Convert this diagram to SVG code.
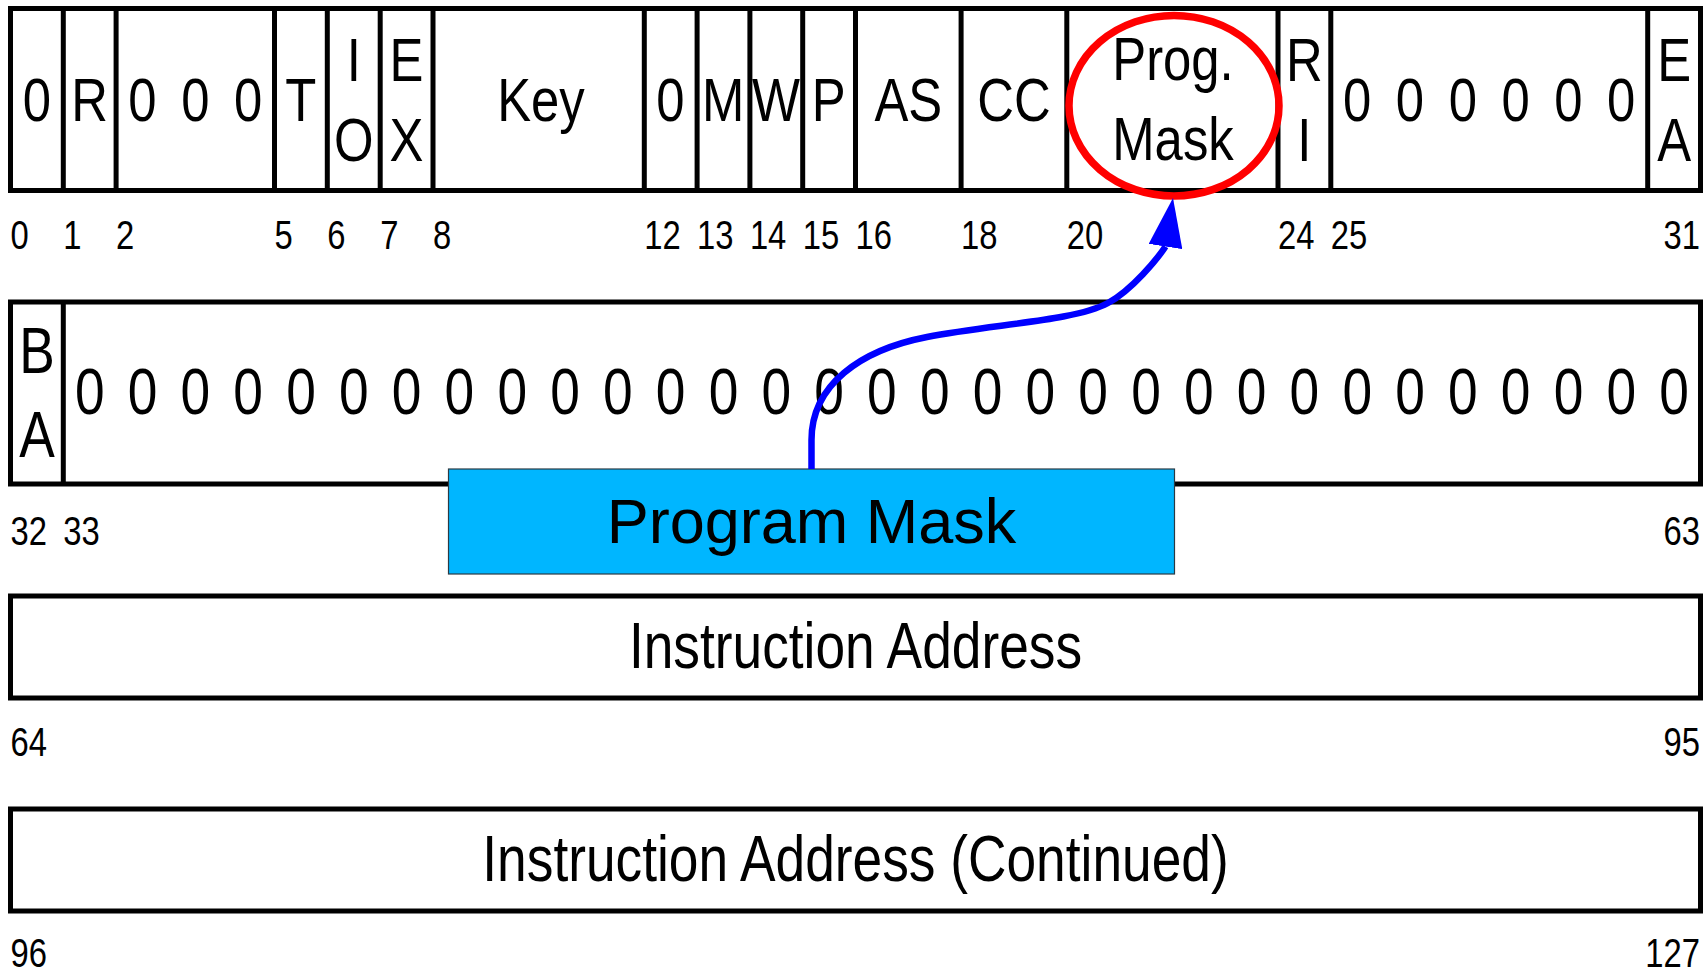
<svg xmlns="http://www.w3.org/2000/svg" width="1703" height="973" viewBox="0 0 1703 973">
<style>
.box{fill:#fff;stroke:#000;stroke-width:5}
.div{stroke:#000;stroke-width:5}
.nar{font-family:'Liberation Sans',Arial,sans-serif;fill:#000}
.lbl{font-size:62px;text-anchor:middle}
.big{font-size:65px;text-anchor:middle}
.num{font-size:40px}
.numr{font-size:40px;text-anchor:end}
</style>
<defs>
<marker id="ah" markerUnits="userSpaceOnUse" viewBox="0 -17 50 34" refX="0" refY="0" markerWidth="50" markerHeight="34" orient="-81.2">
<path d="M0,-17 L49,0 L0,17 z" fill="#0000ff"/>
</marker>
</defs>
<rect width="1703" height="973" fill="#fff"/>

<g id="row1">
<rect class="box" x="10.5" y="8.5" width="1690" height="182"/>
<g class="div">
<line x1="63.3" y1="8.5" x2="63.3" y2="190.5"/>
<line x1="116.1" y1="8.5" x2="116.1" y2="190.5"/>
<line x1="274.5" y1="8.5" x2="274.5" y2="190.5"/>
<line x1="327.3" y1="8.5" x2="327.3" y2="190.5"/>
<line x1="380.2" y1="8.5" x2="380.2" y2="190.5"/>
<line x1="433" y1="8.5" x2="433" y2="190.5"/>
<line x1="644.3" y1="8.5" x2="644.3" y2="190.5"/>
<line x1="697.1" y1="8.5" x2="697.1" y2="190.5"/>
<line x1="749.9" y1="8.5" x2="749.9" y2="190.5"/>
<line x1="802.7" y1="8.5" x2="802.7" y2="190.5"/>
<line x1="855.5" y1="8.5" x2="855.5" y2="190.5"/>
<line x1="961.1" y1="8.5" x2="961.1" y2="190.5"/>
<line x1="1066.8" y1="8.5" x2="1066.8" y2="190.5"/>
<line x1="1278" y1="8.5" x2="1278" y2="190.5"/>
<line x1="1330.8" y1="8.5" x2="1330.8" y2="190.5"/>
<line x1="1647.7" y1="8.5" x2="1647.7" y2="190.5"/>
</g>
<g class="nar" transform="scale(0.82 1)">
<text class="lbl" x="45.0" y="121">0</text>
<text class="lbl" x="109.39" y="121">R</text>
<text class="lbl" x="173.78" y="121">0</text>
<text class="lbl" x="238.17" y="121">0</text>
<text class="lbl" x="302.56" y="121">0</text>
<text class="lbl" x="366.95" y="121">T</text>
<text class="lbl" x="431.34" y="81">I</text>
<text class="lbl" x="431.34" y="161">O</text>
<text class="lbl" x="495.73" y="81">E</text>
<text class="lbl" x="495.73" y="161">X</text>
<text class="lbl" x="659.76" y="121">Key</text>
<text class="lbl" x="817.56" y="121">0</text>
<text class="lbl" x="881.95" y="121">M</text>
<text class="lbl" x="946.34" y="121">W</text>
<text class="lbl" x="1010.73" y="121">P</text>
<text class="lbl" x="1107.68" y="121">AS</text>
<text class="lbl" x="1236.46" y="121">CC</text>
<text class="lbl" x="1430.49" y="80">Prog.</text>
<text class="lbl" x="1430.49" y="160">Mask</text>
<text class="lbl" x="1590.73" y="81">R</text>
<text class="lbl" x="1590.73" y="161">I</text>
<text class="lbl" x="1655.12" y="121">0</text>
<text class="lbl" x="1719.51" y="121">0</text>
<text class="lbl" x="1783.90" y="121">0</text>
<text class="lbl" x="1848.29" y="121">0</text>
<text class="lbl" x="1912.68" y="121">0</text>
<text class="lbl" x="1977.07" y="121">0</text>
<text class="lbl" x="2041.59" y="81">E</text>
<text class="lbl" x="2041.59" y="161">A</text>
</g>
</g>

<g id="row1-bits" class="nar" transform="scale(0.82 1)">
<text class="num" x="12.80" y="249">0</text>
<text class="num" x="77.20" y="249">1</text>
<text class="num" x="141.59" y="249">2</text>
<text class="num" x="334.76" y="249">5</text>
<text class="num" x="399.15" y="249">6</text>
<text class="num" x="463.66" y="249">7</text>
<text class="num" x="528.05" y="249">8</text>
<text class="num" x="785.73" y="249">12</text>
<text class="num" x="850.12" y="249">13</text>
<text class="num" x="914.51" y="249">14</text>
<text class="num" x="978.90" y="249">15</text>
<text class="num" x="1043.29" y="249">16</text>
<text class="num" x="1172.07" y="249">18</text>
<text class="num" x="1300.98" y="249">20</text>
<text class="num" x="1558.54" y="249">24</text>
<text class="num" x="1622.93" y="249">25</text>
<text class="numr" x="2073.17" y="249">31</text>
</g>

<g id="row2">
<rect class="box" x="10.5" y="302" width="1690" height="182"/>
<line class="div" x1="63.3" y1="302" x2="63.3" y2="484"/>
<g class="nar" transform="scale(0.82 1)">
<text class="big" x="45.0" y="373">B</text>
<text class="big" x="45.0" y="457">A</text>
<text class="big" y="414"><tspan x="109.41">0</tspan><tspan x="173.82">0</tspan><tspan x="238.22">0</tspan><tspan x="302.63">0</tspan><tspan x="367.03">0</tspan><tspan x="431.44">0</tspan><tspan x="495.84">0</tspan><tspan x="560.25">0</tspan><tspan x="624.65">0</tspan><tspan x="689.06">0</tspan><tspan x="753.46">0</tspan><tspan x="817.87">0</tspan><tspan x="882.27">0</tspan><tspan x="946.68">0</tspan><tspan x="1011.08">0</tspan><tspan x="1075.49">0</tspan><tspan x="1139.89">0</tspan><tspan x="1204.30">0</tspan><tspan x="1268.70">0</tspan><tspan x="1333.11">0</tspan><tspan x="1397.51">0</tspan><tspan x="1461.92">0</tspan><tspan x="1526.32">0</tspan><tspan x="1590.73">0</tspan><tspan x="1655.13">0</tspan><tspan x="1719.54">0</tspan><tspan x="1783.94">0</tspan><tspan x="1848.35">0</tspan><tspan x="1912.75">0</tspan><tspan x="1977.16">0</tspan><tspan x="2041.56">0</tspan></text>
<text class="num" x="12.80" y="545">32</text>
<text class="num" x="77.20" y="545">33</text>
<text class="numr" x="2073.17" y="545">63</text>
</g>
</g>

<g id="row3">
<rect class="box" x="10.5" y="596" width="1690" height="102"/>
<g class="nar" transform="scale(0.82 1)">
<text class="big" x="1043.29" y="668">Instruction Address</text>
<text class="num" x="12.80" y="756">64</text>
<text class="numr" x="2073.17" y="756">95</text>
</g>
</g>

<g id="row4">
<rect class="box" x="10.5" y="809" width="1690" height="102"/>
<g class="nar" transform="scale(0.82 1)">
<text class="big" x="1043.29" y="881">Instruction Address (Continued)</text>
<text class="num" x="12.80" y="967">96</text>
<text class="numr" x="2073.17" y="967">127</text>
</g>
</g>

<g id="highlight">
<ellipse cx="1174" cy="105.7" rx="105" ry="90.3" fill="none" stroke="#ff0000" stroke-width="7.5"/>
</g>

<g id="callout">
<rect x="448.5" y="469" width="726" height="105" fill="#00b6ff" stroke="#2a3a44" stroke-width="1.2"/>
<text x="811.5" y="543" font-family="'Liberation Sans',Arial,sans-serif" font-size="63" fill="#000" text-anchor="middle">Program Mask</text>
</g>

<g id="connectors">
<path d="M811.5,469 L811.5,440 C811.5,385 860,350 927,337 C994,324 1075,321 1108,303 C1132,290 1158,258 1165.5,246.5" fill="none" stroke="#0000ff" stroke-width="6.5" marker-end="url(#ah)"/>
</g>
</svg>
